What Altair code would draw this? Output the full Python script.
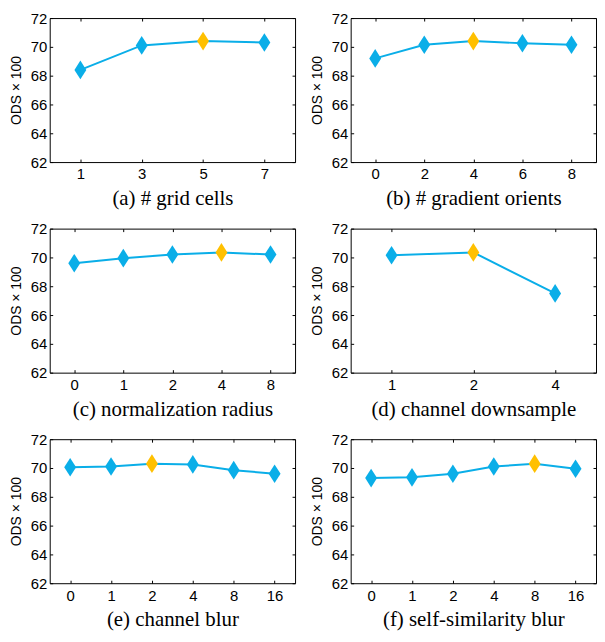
import altair as alt
import pandas as pd

# ---- data ----
captions = [
    "(a) # grid cells",
    "(b) # gradient orients",
    "(c) normalization radius",
    "(d) channel downsample",
    "(e) channel blur",
    "(f) self-similarity blur",
]
grid_x = ["1", "3", "5", "7"]
grid_y = [68.4, 70.1, 70.4, 70.3]
orient_x = ["0", "2", "4", "6", "8"]
orient_y = [69.2, 70.15, 70.4, 70.25, 70.15]
norm_x = ["0", "1", "2", "4", "8"]
norm_y = [69.6, 69.95, 70.2, 70.35, 70.2]
down_x = ["1", "2", "4"]
down_y = [70.15, 70.35, 67.5]
cblur_x = ["0", "1", "2", "4", "8", "16"]
cblur_y = [70.05, 70.1, 70.3, 70.25, 69.85, 69.6]
ssblur_x = ["0", "1", "2", "4", "8", "16"]
ssblur_y = [69.3, 69.35, 69.6, 70.1, 70.3, 69.95]
best_index = [2, 2, 3, 1, 2, 4]
y_ticks = [62, 64, 66, 68, 70, 72]

series = [
    (grid_x, grid_y),
    (orient_x, orient_y),
    (norm_x, norm_y),
    (down_x, down_y),
    (cblur_x, cblur_y),
    (ssblur_x, ssblur_y),
]

CYAN = "#0AAEE8"
GOLD = "#FFC000"
DIAMOND = "M0,-1.25L0.8,0L0,1.25L-0.8,0Z"


def panel(cap, xs, ys, bi):
    df = pd.DataFrame({"x": xs, "y": ys, "best": [i == bi for i in range(len(xs))]})
    base = alt.Chart(df)
    xsc = alt.Scale(type="point", padding=0.5, domain=xs)
    ysc = alt.Scale(domain=[62, 72], nice=False, zero=False)

    main_x = alt.Axis(orient="bottom", ticks=False, domain=False, grid=False, labelAngle=0,
                      labelFont="Liberation Sans", labelFontSize=15, labelColor="black",
                      labelPadding=5, title=cap, titleFont="Liberation Serif",
                      titleFontSize=21, titleFontWeight="normal", titleColor="black",
                      titlePadding=6)
    main_y = alt.Axis(orient="left", ticks=False, domain=False, grid=False, values=y_ticks,
                      labelFont="Liberation Sans", labelFontSize=15, labelColor="black",
                      labelPadding=3, title="ODS \u00d7 100", titleFont="Liberation Sans",
                      titleFontSize=14, titleFontWeight="normal", titleColor="black",
                      titlePadding=7)

    def tick_axis(orient, vals=None):
        kw = dict(orient=orient, labels=False, title=None, domain=False, ticks=True,
                  tickSize=3, tickColor="black", tickWidth=1, offset=-3, grid=False)
        if vals is not None:
            kw["values"] = vals
        return alt.Axis(**kw)

    line = base.mark_line(color=CYAN, strokeWidth=2).encode(
        x=alt.X("x:N", scale=xsc, axis=main_x, sort=xs),
        y=alt.Y("y:Q", scale=ysc, axis=main_y),
    )
    pts = base.mark_point(shape=DIAMOND, size=225, filled=True, opacity=1).encode(
        x=alt.X("x:N", scale=xsc, axis=tick_axis("top"), sort=xs),
        y=alt.Y("y:Q", scale=ysc, axis=tick_axis("right", y_ticks)),
        color=alt.condition(alt.datum.best, alt.value(GOLD), alt.value(CYAN)),
    )
    ghost = base.mark_point(opacity=0, size=1).encode(
        x=alt.X("x:N", scale=xsc, axis=tick_axis("bottom"), sort=xs),
        y=alt.Y("y:Q", scale=ysc, axis=tick_axis("left", y_ticks)),
    )
    return (
        alt.layer(line, pts, ghost)
        .resolve_scale(x="shared", y="shared")
        .resolve_axis(x="independent", y="independent")
        .properties(width=247, height=145)
    )


panels = [panel(c, s[0], s[1], b) for c, s, b in zip(captions, series, best_index)]

rows = [
    alt.hconcat(panels[0], panels[1], spacing=13),
    alt.hconcat(panels[2], panels[3], spacing=13),
    alt.hconcat(panels[4], panels[5], spacing=13),
]
chart = (
    alt.vconcat(*rows, spacing=11)
    .properties(padding=0, background="white")
    .configure_view(stroke="black", strokeWidth=1)
    .configure_axis(grid=False)
)

chart.save("out.html", embed_options={"renderer": "svg", "actions": False})
